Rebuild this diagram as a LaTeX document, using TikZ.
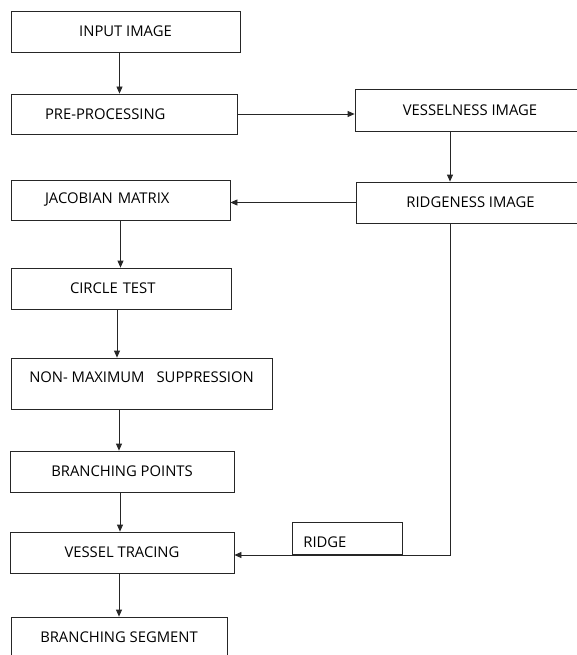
\documentclass[tikz,border=0pt]{standalone}
\usepackage{fontspec}
\setmainfont{Open Sans}
\usepackage{tikz}
\usetikzlibrary{arrows.meta,positioning,calc}

\begin{document}
\begin{tikzpicture}[x=1pt,y=-1pt]
        % Define styles
        \tikzstyle{stage} = [rectangle, draw=black!85, line width=0.8pt, minimum height=41pt, inner sep=0pt, text centered, font=\fontsize{14.8}{17}\selectfont]
        \tikzstyle{arrow} = [line width=0.8pt, draw=black!85, ->, >={Triangle[length=7pt,width=6pt]}]

        \useasboundingbox (0,0) rectangle (576,655);

        % Left column
        \node (input) [stage, minimum width=229pt] at (125.5,31.5) {INPUT IMAGE};
        \node (pre) [stage, minimum width=226pt, minimum height=40pt, text width=158pt, inner xsep=34pt, align=left] at (124,114) {PRE-PROCESSING};
        \node (jacobian) [stage, minimum width=219pt, minimum height=40pt, text width=151pt, inner xsep=34pt, align=left] at (120.5,200) {JACOBIAN MATRIX};
        \node (circle) [stage, minimum width=220pt, text width=102pt, inner xsep=59pt, align=left] at (121,288.5) {CIRCLE TEST};
        \node (nonmax) [stage, minimum width=261pt, minimum height=51pt, text depth=13pt] at (141.5,383.5) {NON- MAXIMUM\hspace{12pt}SUPPRESSION};
        \node (branch) [stage, minimum width=224pt] at (122,471.5) {BRANCHING POINTS};
        \node (tracing) [stage, minimum width=224pt] at (122,552.5) {VESSEL TRACING};
        \node (segment) [stage, minimum width=216pt, minimum height=40pt] at (119,637) {BRANCHING SEGMENT};

        % Right column
        \node (vessel) [stage, minimum width=230pt, minimum height=42pt] at (470,110) {VESSELNESS IMAGE};
        \node (ridge) [stage, minimum width=229pt] at (470.5,202.5) {RIDGENESS IMAGE};
        \node (ridgelbl) [stage, anchor=south west, minimum width=110pt, minimum height=32pt, text width=88pt, inner xsep=11pt, text height=17.6pt, align=left] at (292,555) {RIDGE};

        % Flow
        \draw [arrow] ([xshift=-6pt]input.south) -- ([xshift=-4.5pt]pre.north);
        \draw [arrow] (pre.east) -- (pre.east -| vessel.west);
        \draw [arrow] ([xshift=-20pt]vessel.south) -- ([xshift=-20pt]vessel.south |- ridge.north);
        \draw [arrow] (ridge.west) -- (ridge.west -| jacobian.east);
        \draw [arrow] (jacobian.south) -- (jacobian.south |- circle.north);
        \draw [arrow] ([xshift=-4pt]circle.south) -- ([xshift=-4pt]circle.south |- nonmax.north);
        \draw [arrow] ([xshift=-3pt]branch.north |- nonmax.south) -- ([xshift=-3pt]branch.north);
        \draw [arrow] ([xshift=-2pt]branch.south) -- ([xshift=-2pt]tracing.north);
        \draw [arrow] (segment.north |- tracing.south) -- (segment.north);
        \draw [arrow] ([xshift=-20pt]ridge.south) |- ([yshift=-2.5pt]tracing.east);

    \end{tikzpicture}
\end{document}
